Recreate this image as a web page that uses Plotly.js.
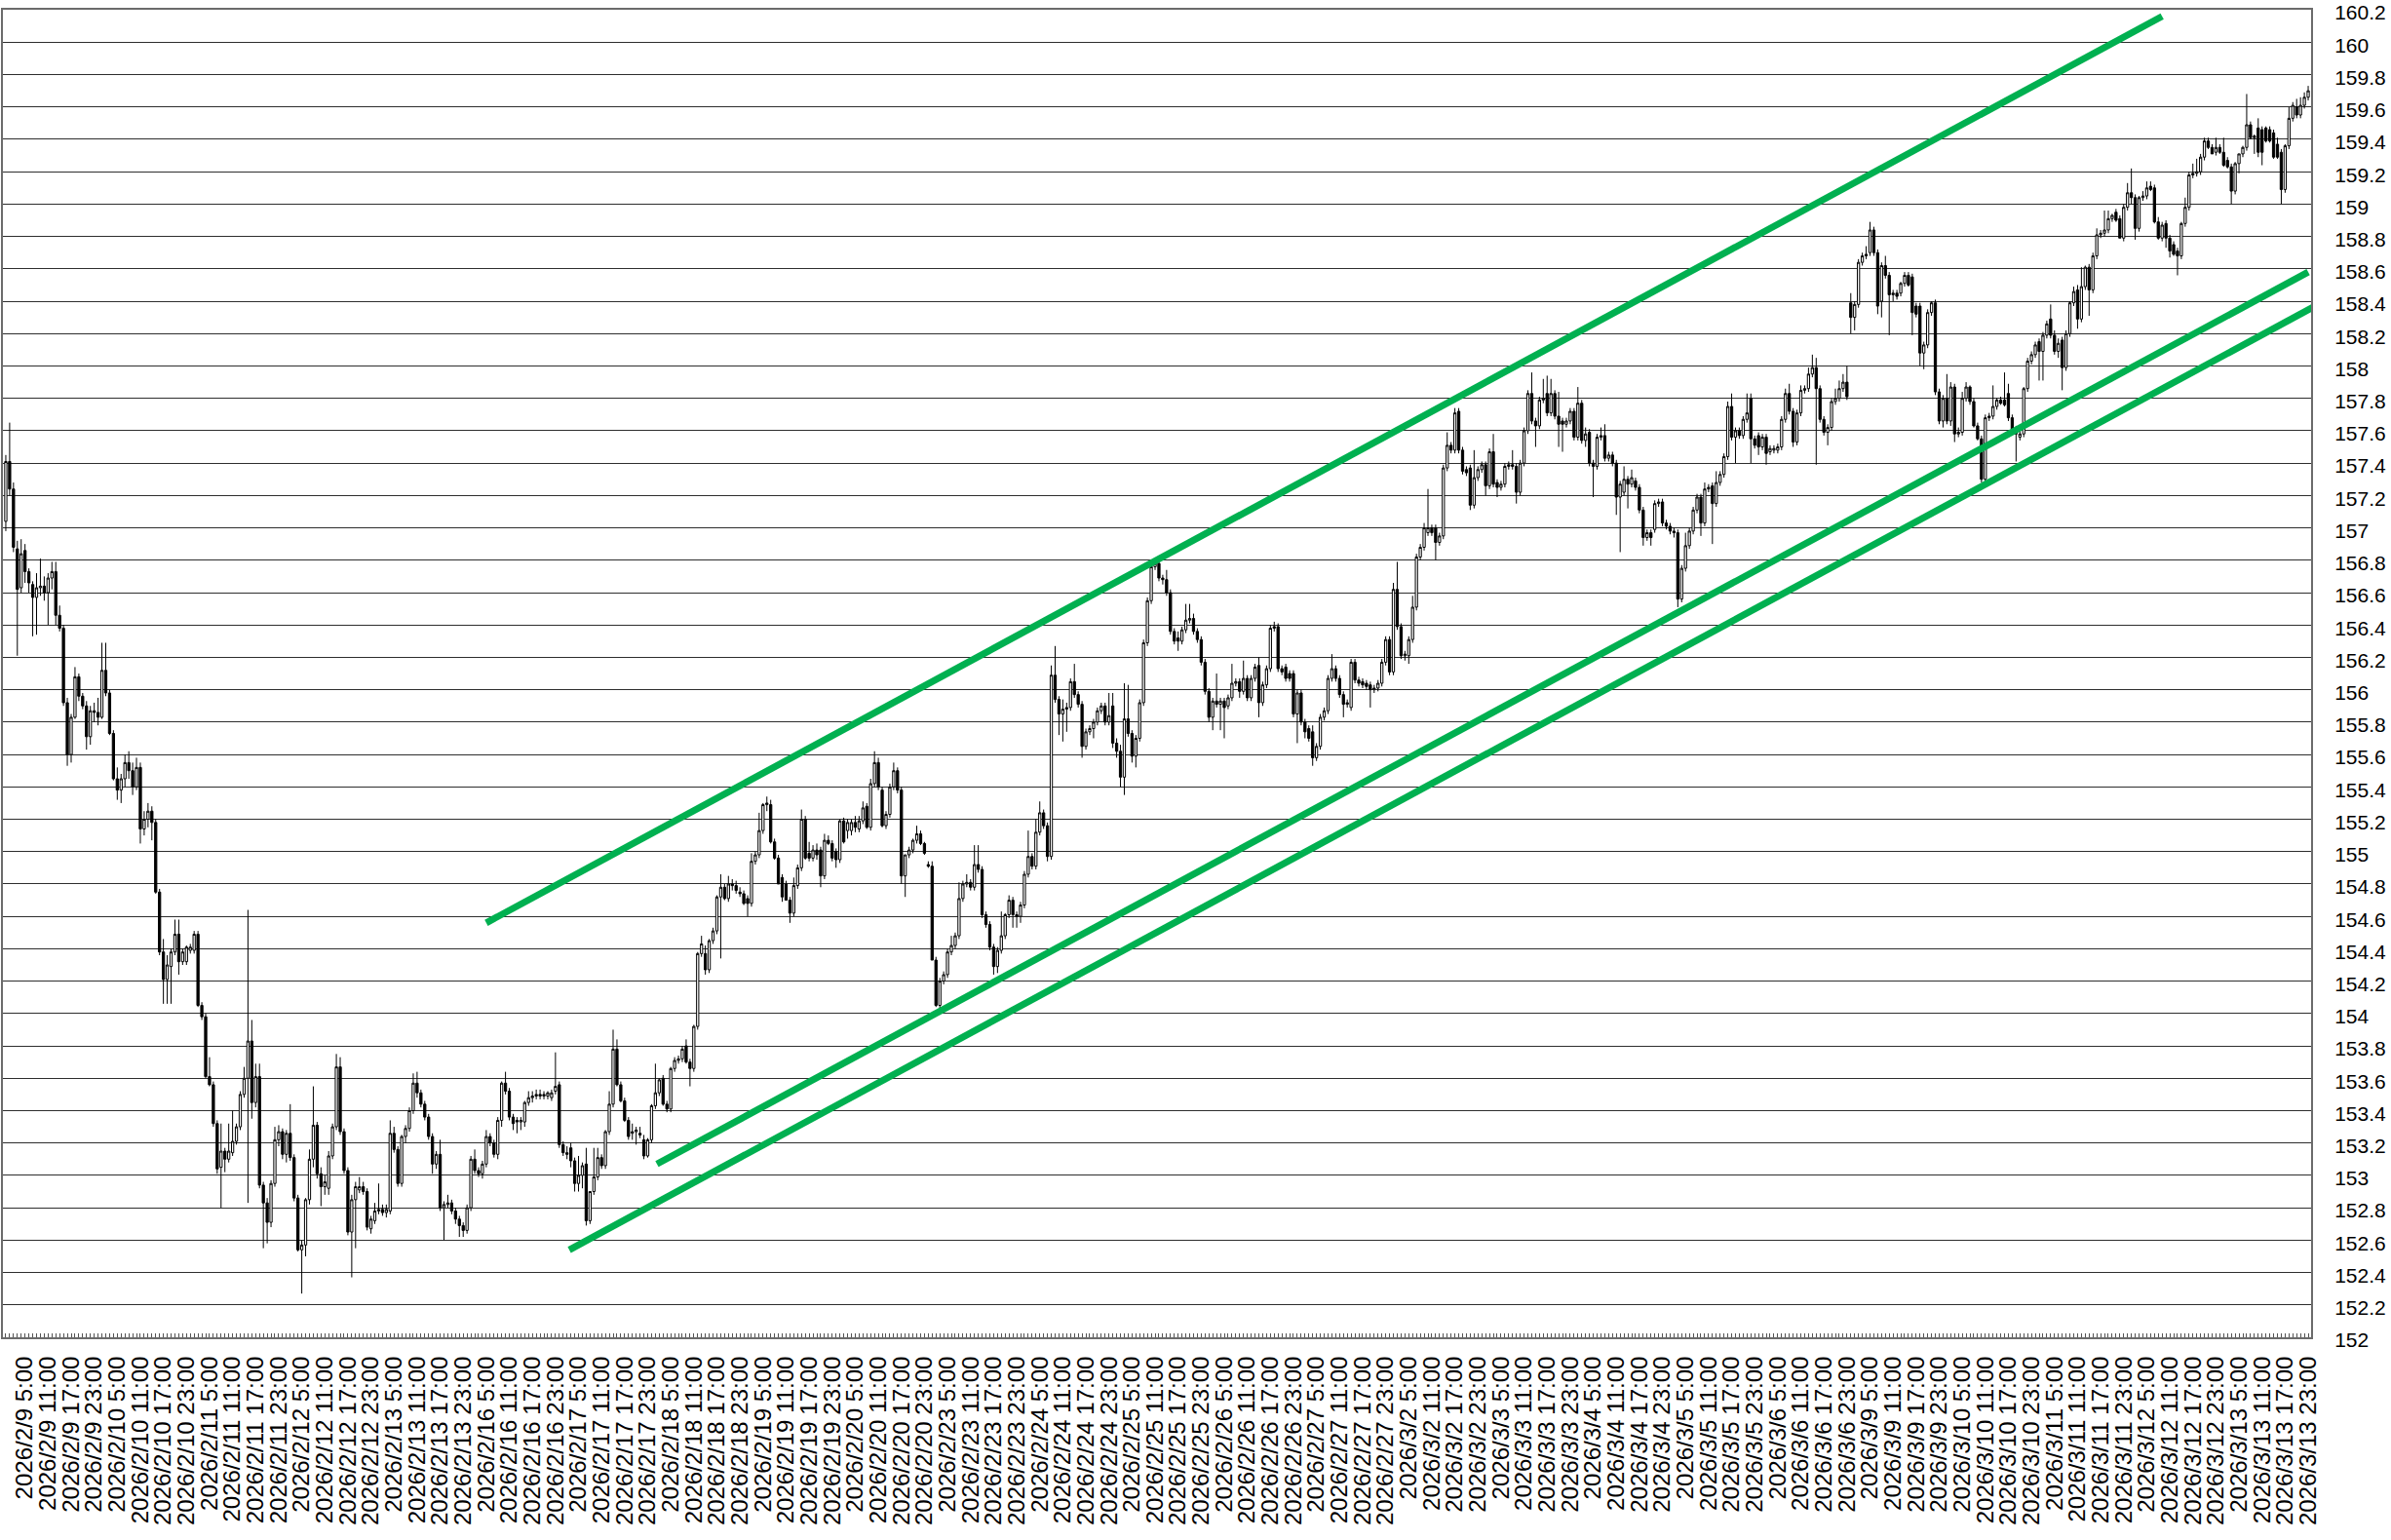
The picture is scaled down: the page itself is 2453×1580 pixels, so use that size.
<!DOCTYPE html>
<html>
<head>
<meta charset="utf-8">
<script src="https://cdn.plot.ly/plotly-3.0.1.min.js"></script>
<style>
  html, body { margin: 0; padding: 0; background: #ffffff; }
  #chart { width: 2453px; height: 1580px; }
</style>
</head>
<body>
<div id="chart"></div>
<script>
// ---- Data (hourly USD/JPY style candles) ----
const tradingDays = ['2026/2/9','2026/2/10','2026/2/11','2026/2/12','2026/2/13',
  '2026/2/16','2026/2/17','2026/2/18','2026/2/19','2026/2/20',
  '2026/2/23','2026/2/24','2026/2/25','2026/2/26','2026/2/27',
  '2026/3/2','2026/3/3','2026/3/4','2026/3/5','2026/3/6',
  '2026/3/9','2026/3/10','2026/3/11','2026/3/12','2026/3/13'];
const labelHours = ['5:00','11:00','17:00','23:00'];

const priceTicks = [152,152.2,152.4,152.6,152.8,153,153.2,153.4,153.6,153.8,
  154,154.2,154.4,154.6,154.8,155,155.2,155.4,155.6,155.8,
  156,156.2,156.4,156.6,156.8,157,157.2,157.4,157.6,157.8,
  158,158.2,158.4,158.6,158.8,159,159.2,159.4,159.6,159.8,160,160.2];

const open = [
157.04,157.41,157.24,156.87,156.63,156.86,156.73,156.65,156.57,156.63,
156.64,156.60,156.69,156.73,156.46,156.38,155.92,155.60,155.83,156.08,
155.96,155.90,155.71,155.87,155.86,155.83,156.12,155.98,155.73,155.45,
155.38,155.45,155.55,155.50,155.40,155.52,155.14,155.20,155.25,155.18,
154.75,154.38,154.21,154.29,154.38,154.49,154.32,154.32,154.39,154.39,
154.49,154.05,153.98,153.61,153.56,153.32,153.05,153.15,153.10,153.14,
153.21,153.30,153.50,153.60,153.83,153.45,153.61,152.94,152.83,152.71,
152.95,153.22,153.27,153.13,153.26,153.11,152.86,152.54,152.57,152.85,
153.10,153.31,153.01,152.93,152.92,153.12,153.30,153.67,153.27,153.03,
152.65,152.85,152.91,152.93,152.90,152.67,152.72,152.78,152.79,152.77,
152.78,153.26,153.16,152.95,153.24,153.29,153.40,153.57,153.51,153.44,
153.36,153.24,153.07,153.13,152.80,152.82,152.83,152.78,152.73,152.69,
152.66,152.80,153.10,153.03,153.01,153.07,153.24,153.20,153.13,153.34,
153.57,153.52,153.36,153.34,153.33,153.33,153.45,153.48,153.49,153.50,
153.49,153.49,153.48,153.52,153.56,153.19,153.14,153.17,153.09,152.95,
153.00,153.07,152.72,152.90,152.99,153.11,153.06,153.27,153.44,153.78,
153.56,153.46,153.34,153.26,153.27,153.26,153.22,153.12,153.22,153.43,
153.51,153.60,153.44,153.41,153.66,153.71,153.72,153.80,153.70,153.66,
153.92,154.37,154.37,154.27,154.45,154.51,154.72,154.78,154.71,154.80,
154.79,154.75,154.74,154.71,154.68,154.94,154.98,155.13,155.29,155.29,
155.06,154.96,154.84,154.80,154.70,154.62,154.79,154.90,155.20,154.99,
154.96,155.01,155.01,154.85,155.07,155.05,155.00,154.95,155.19,155.13,
155.13,155.18,155.14,155.19,155.28,155.15,155.42,155.55,155.38,155.16,
155.23,155.40,155.50,155.38,154.85,154.98,155.01,155.07,155.11,155.05,
154.92,154.91,154.33,154.05,154.20,154.24,154.38,154.42,154.48,154.71,
154.80,154.81,154.78,154.92,154.89,154.61,154.55,154.41,154.29,154.39,
154.48,154.61,154.70,154.61,154.60,154.67,154.86,154.97,154.91,155.12,
155.24,155.16,154.97,156.09,155.94,155.85,155.88,155.89,156.05,155.97,
155.91,155.65,155.74,155.76,155.80,155.87,155.90,155.80,155.90,155.67,
155.62,155.46,155.82,155.73,155.59,155.70,155.92,156.29,156.55,156.76,
156.78,156.69,156.68,156.60,156.36,156.32,156.30,156.37,156.43,156.44,
156.36,156.31,156.17,155.99,155.83,155.93,155.91,155.93,155.90,155.95,
156.04,156.05,155.99,156.07,155.95,156.07,156.15,155.92,156.03,156.13,
156.38,156.39,156.13,156.14,156.10,156.10,155.85,155.98,155.80,155.76,
155.74,155.58,155.65,155.83,155.87,156.07,156.13,156.07,155.97,155.91,
155.89,156.17,156.06,156.05,156.04,156.03,156.00,156.01,156.04,156.17,
156.31,156.11,156.62,156.39,156.21,156.21,156.31,156.51,156.82,156.88,
156.97,157.00,157.00,156.91,156.95,157.37,157.51,157.48,157.72,157.48,
157.36,157.37,157.14,157.31,157.36,157.39,157.26,157.47,157.28,157.25,
157.27,157.38,157.39,157.38,157.22,157.40,157.60,157.83,157.66,157.63,
157.79,157.83,157.71,157.83,157.69,157.66,157.64,157.66,157.72,157.56,
157.77,157.54,157.59,157.40,157.38,157.56,157.57,157.43,157.45,157.40,
157.19,157.22,157.30,157.27,157.29,157.25,157.11,156.94,156.97,156.99,
157.15,157.16,157.03,157.01,156.98,156.97,156.56,156.75,156.89,156.98,
157.11,157.19,157.03,157.24,157.26,157.15,157.28,157.33,157.44,157.75,
157.56,157.60,157.57,157.67,157.80,157.55,157.57,157.50,157.56,157.47,
157.48,157.48,157.50,157.67,157.83,157.72,157.53,157.71,157.85,157.86,
157.95,157.99,157.86,157.67,157.59,157.62,157.78,157.80,157.86,157.90,
158.39,158.30,158.38,158.64,158.68,158.70,158.84,158.70,158.40,158.62,
158.56,158.44,158.45,158.45,158.51,158.56,158.55,158.37,158.37,158.08,
158.13,158.33,158.39,157.84,157.66,157.80,157.66,157.87,157.58,157.59,
157.80,157.87,157.78,157.63,157.55,157.30,157.68,157.69,157.75,157.79,
157.79,157.83,157.68,157.61,157.56,157.58,157.86,158.03,158.07,158.15,
158.09,158.19,158.29,158.19,158.09,158.16,157.99,158.20,158.39,158.47,
158.29,158.49,158.61,158.47,158.68,158.81,158.82,158.84,158.91,158.95,
158.91,158.79,158.98,159.07,159.04,158.85,159.04,159.05,159.11,159.10,
158.89,158.79,158.88,158.79,158.75,158.71,158.68,158.88,158.98,159.18,
159.19,159.20,159.29,159.39,159.35,159.32,159.35,159.32,159.27,159.23,
159.08,159.25,159.31,159.35,159.49,159.41,159.47,159.46,159.47,159.46,
159.44,159.37,159.32,159.09,159.36,159.53,159.60,159.55,159.61,159.66];

const high = [
157.45,157.65,157.28,156.92,156.93,156.90,156.75,156.67,156.72,156.81,
156.70,156.72,156.79,156.79,156.52,156.40,155.95,155.85,156.14,156.10,
155.98,155.93,155.90,155.92,155.95,156.29,156.29,156.00,155.75,155.52,
155.48,155.60,155.62,155.55,155.58,155.55,155.25,155.30,155.28,155.20,
154.77,154.46,154.36,154.40,154.58,154.58,154.40,154.42,154.43,154.51,
154.51,154.07,154.00,153.73,153.58,153.34,153.32,153.17,153.32,153.40,
153.32,153.52,153.67,154.64,153.96,153.69,153.69,152.96,152.86,152.97,
153.30,153.31,153.29,153.28,153.44,153.13,152.88,152.60,152.86,153.16,
153.55,153.33,153.05,153.00,153.15,153.32,153.75,153.73,153.29,153.05,
152.88,152.96,152.99,152.96,152.92,152.75,152.83,152.95,152.82,152.82,
153.34,153.30,153.18,153.25,153.31,153.42,153.63,153.64,153.53,153.46,
153.38,153.26,153.15,153.22,152.84,152.88,152.85,152.80,152.75,152.71,
152.82,153.12,153.16,153.05,153.09,153.28,153.26,153.22,153.36,153.58,
153.64,153.54,153.38,153.36,153.36,153.46,153.52,153.52,153.53,153.53,
153.52,153.52,153.53,153.76,153.58,153.21,153.18,153.20,153.11,153.12,
153.08,153.17,152.90,153.17,153.17,153.13,153.28,153.52,153.90,153.84,
153.58,153.48,153.36,153.32,153.30,153.30,153.25,153.23,153.44,153.69,
153.60,153.62,153.46,153.67,153.73,153.74,153.80,153.84,153.72,153.93,
154.38,154.48,154.42,154.46,154.53,154.73,154.86,154.80,154.85,154.83,
154.82,154.78,154.76,154.73,154.99,155.00,155.24,155.30,155.34,155.32,
155.08,154.98,154.86,154.82,154.72,154.84,154.92,155.26,155.22,155.06,
155.04,155.05,155.03,155.11,155.10,155.07,155.02,155.20,155.21,155.20,
155.20,155.22,155.22,155.31,155.30,155.45,155.62,155.58,155.40,155.25,
155.42,155.55,155.52,155.40,154.98,155.03,155.08,155.16,155.13,155.06,
154.94,154.94,154.35,154.22,154.26,154.40,154.48,154.50,154.81,154.82,
154.86,154.83,155.04,155.04,154.91,154.63,154.57,154.43,154.41,154.63,
154.62,154.73,154.72,154.63,154.69,154.88,155.13,154.99,155.20,155.31,
155.26,155.18,156.15,156.27,155.96,155.94,155.92,156.07,156.16,155.99,
155.93,155.76,155.78,155.82,155.89,155.92,155.92,155.98,155.98,155.70,
155.66,156.04,156.03,155.75,155.72,155.94,156.31,156.57,156.78,156.79,
156.80,156.71,156.74,156.62,156.38,156.36,156.39,156.53,156.53,156.47,
156.38,156.33,156.19,156.01,155.95,156.10,155.95,155.95,155.97,156.16,
156.07,156.07,156.18,156.09,156.09,156.16,156.20,156.05,156.15,156.40,
156.42,156.41,156.15,156.16,156.12,156.12,156.00,156.00,155.82,155.78,
155.78,155.67,155.85,155.89,156.09,156.22,156.15,156.09,155.99,155.94,
156.19,156.19,156.08,156.07,156.06,156.05,156.03,156.06,156.19,156.33,
156.33,156.66,156.79,156.41,156.24,156.33,156.58,156.84,156.90,157.03,
157.24,157.02,157.02,156.97,157.39,157.59,157.53,157.74,157.74,157.50,
157.38,157.39,157.48,157.38,157.41,157.41,157.49,157.58,157.30,157.29,
157.40,157.41,157.48,157.40,157.42,157.62,157.85,157.96,157.68,157.81,
157.92,157.94,157.92,157.85,157.84,157.68,157.68,157.74,157.74,157.87,
157.79,157.62,157.61,157.42,157.58,157.62,157.64,157.47,157.47,157.42,
157.29,157.38,157.32,157.36,157.31,157.27,157.13,156.99,156.99,157.17,
157.18,157.18,157.05,157.03,157.00,156.99,156.77,156.97,157.00,157.13,
157.21,157.21,157.28,157.27,157.28,157.35,157.35,157.46,157.78,157.83,
157.62,157.62,157.69,157.83,157.83,157.57,157.59,157.58,157.58,157.51,
157.51,157.52,157.69,157.86,157.89,157.74,157.73,157.88,157.88,157.99,
158.07,158.05,157.88,157.69,157.64,157.80,157.86,157.91,157.95,158.00,
158.45,158.40,158.66,158.70,158.74,158.89,158.86,158.72,158.64,158.68,
158.58,158.47,158.47,158.52,158.58,158.58,158.57,158.39,158.39,158.15,
158.35,158.40,158.41,157.86,157.82,157.95,157.90,157.89,157.62,157.84,
157.90,157.88,157.80,157.65,157.57,157.70,157.71,157.88,157.80,157.81,
157.96,157.89,157.70,157.63,157.60,157.87,158.05,158.09,158.15,158.17,
158.21,158.28,158.38,158.22,158.17,158.18,158.22,158.40,158.49,158.50,
158.61,158.62,158.63,158.70,158.85,158.84,158.96,158.96,158.94,158.97,
158.93,159.00,159.13,159.22,159.06,159.05,159.08,159.14,159.14,159.12,
158.92,158.89,158.90,158.81,158.77,158.73,158.89,159.04,159.20,159.25,
159.28,159.31,159.41,159.41,159.37,159.41,159.37,159.41,159.29,159.25,
159.26,159.31,159.36,159.68,159.51,159.43,159.53,159.48,159.48,159.48,
159.46,159.41,159.34,159.37,159.60,159.63,159.65,159.66,159.69,159.73];

const low = [
156.98,157.20,156.85,156.21,156.60,156.66,156.60,156.33,156.34,156.58,
156.55,156.40,156.62,156.40,156.36,155.90,155.53,155.55,155.82,155.93,
155.88,155.63,155.66,155.80,155.78,155.82,155.96,155.72,155.44,155.32,
155.30,155.40,155.45,155.35,155.38,155.05,155.10,155.15,155.07,154.74,
154.36,154.06,154.06,154.06,154.36,154.24,154.30,154.30,154.37,154.37,
154.04,153.96,153.60,153.55,153.30,153.01,152.80,153.02,153.08,153.12,
153.19,153.28,153.48,152.83,153.35,153.42,152.92,152.55,152.58,152.68,
152.93,153.18,153.10,153.08,153.09,152.84,152.53,152.27,152.50,152.82,
153.05,152.98,152.81,152.88,152.88,153.10,153.28,153.25,153.01,152.63,
152.37,152.55,152.89,152.88,152.66,152.64,152.70,152.76,152.75,152.74,
152.76,153.14,152.93,152.93,153.20,153.27,153.38,153.48,153.42,153.34,
153.22,153.01,153.04,152.78,152.60,152.80,152.76,152.70,152.62,152.62,
152.64,152.78,153.01,152.99,152.98,153.05,153.18,153.11,153.10,153.30,
153.50,153.34,153.28,153.26,153.28,153.30,153.43,153.45,153.47,153.47,
153.47,153.47,153.46,153.50,153.17,153.12,153.10,153.05,152.90,152.90,
152.92,152.69,152.70,152.88,152.97,153.04,153.04,153.25,153.42,153.55,
153.45,153.33,153.22,153.22,153.19,153.23,153.10,153.11,153.20,153.41,
153.49,153.43,153.39,153.39,153.64,153.69,153.70,153.69,153.55,153.64,
153.90,154.35,154.24,154.25,154.43,154.49,154.34,154.70,154.69,154.76,
154.74,154.72,154.67,154.60,154.66,154.92,154.96,155.11,155.25,155.05,
154.95,154.80,154.69,154.70,154.56,154.60,154.77,154.88,154.95,154.94,
154.94,154.95,154.78,154.83,155.04,154.94,154.90,154.93,155.05,155.08,
155.10,155.12,155.12,155.17,155.14,155.13,155.40,155.38,155.15,155.14,
155.21,155.38,155.36,154.80,154.72,154.96,154.99,155.05,155.04,154.98,
154.90,154.33,154.04,154.03,154.18,154.22,154.36,154.40,154.46,154.69,
154.78,154.76,154.76,154.87,154.59,154.53,154.39,154.24,154.25,154.37,
154.46,154.59,154.53,154.53,154.56,154.65,154.84,154.89,154.89,155.10,
155.14,154.94,154.95,155.92,155.72,155.68,155.74,155.87,155.95,155.89,
155.58,155.63,155.72,155.70,155.78,155.85,155.78,155.78,155.64,155.58,
155.40,155.35,155.71,155.55,155.52,155.68,155.90,156.27,156.53,156.74,
156.67,156.65,156.58,156.34,156.28,156.24,156.28,156.35,156.41,156.34,
156.29,156.15,155.97,155.80,155.75,155.89,155.75,155.70,155.88,155.93,
156.02,155.95,155.97,155.93,155.93,156.05,155.83,155.90,156.01,156.11,
156.36,156.11,156.09,156.05,156.05,155.83,155.67,155.78,155.70,155.68,
155.53,155.56,155.63,155.81,155.85,156.05,156.05,155.95,155.83,155.89,
155.87,156.04,156.02,156.01,156.00,155.89,155.98,155.99,156.02,156.15,
156.09,156.09,156.37,156.19,156.18,156.16,156.29,156.49,156.80,156.86,
156.95,156.95,156.80,156.89,156.93,157.35,157.46,157.46,157.46,157.33,
157.32,157.11,157.12,157.29,157.34,157.20,157.24,157.25,157.19,157.23,
157.25,157.36,157.36,157.15,157.20,157.38,157.58,157.64,157.50,157.61,
157.77,157.69,157.69,157.67,157.50,157.47,157.62,157.64,157.54,157.54,
157.52,157.50,157.38,157.19,157.36,157.54,157.41,157.41,157.38,157.08,
156.85,157.20,157.12,157.25,157.23,157.09,156.89,156.92,156.89,156.97,
157.13,157.01,156.99,156.96,156.94,156.51,156.54,156.73,156.87,156.96,
157.09,156.95,157.01,157.22,156.90,157.13,157.26,157.31,157.42,157.54,
157.40,157.55,157.55,157.65,157.40,157.49,157.45,157.48,157.39,157.45,
157.46,157.46,157.48,157.65,157.70,157.50,157.51,157.69,157.83,157.84,
157.93,157.39,157.65,157.57,157.51,157.60,157.76,157.78,157.84,157.79,
158.20,158.22,158.36,158.62,158.66,158.68,158.68,158.32,158.30,158.54,
158.19,158.40,158.41,158.43,158.49,158.49,158.19,158.30,158.00,157.98,
158.11,158.31,157.82,157.64,157.62,157.64,157.63,157.53,157.56,157.57,
157.78,157.76,157.62,157.54,157.28,157.28,157.66,157.67,157.73,157.76,
157.75,157.66,157.60,157.41,157.54,157.56,157.84,158.01,158.05,157.91,
157.91,158.17,158.17,158.07,158.05,157.85,157.97,158.18,158.37,158.23,
158.27,158.47,158.31,158.45,158.66,158.79,158.80,158.82,158.89,158.89,
158.79,158.77,158.96,159.00,158.78,158.83,159.02,159.03,159.08,158.88,
158.78,158.77,158.73,158.67,158.68,158.56,158.66,158.86,158.96,159.16,
159.17,159.18,159.27,159.34,159.31,159.30,159.31,159.23,159.22,159.00,
159.06,159.19,159.29,159.33,159.40,159.31,159.29,159.24,159.38,159.38,
159.28,159.28,159.00,159.07,159.34,159.51,159.53,159.53,159.59,159.64];

const close = [
157.41,157.24,156.88,156.62,156.84,156.73,156.66,156.57,156.63,156.64,
156.60,156.69,156.73,156.46,156.38,155.92,155.60,155.83,156.08,155.96,
155.90,155.71,155.87,155.86,155.83,156.12,155.98,155.73,155.45,155.38,
155.45,155.55,155.50,155.40,155.52,155.14,155.20,155.25,155.18,154.75,
154.38,154.21,154.30,154.38,154.49,154.32,154.38,154.41,154.41,154.49,
154.05,153.98,153.61,153.56,153.32,153.04,153.15,153.10,153.15,153.21,
153.30,153.50,153.60,153.83,153.45,153.61,152.94,152.83,152.71,152.95,
153.22,153.27,153.13,153.26,153.11,152.86,152.54,152.57,152.85,153.10,
153.31,153.01,152.93,152.96,153.12,153.30,153.67,153.27,153.03,152.65,
152.85,152.93,152.93,152.90,152.68,152.73,152.78,152.79,152.77,152.79,
153.26,153.16,152.95,153.24,153.29,153.40,153.57,153.51,153.44,153.36,
153.24,153.07,153.13,152.80,152.82,152.83,152.78,152.73,152.69,152.66,
152.80,153.10,153.03,153.01,153.07,153.24,153.20,153.13,153.34,153.57,
153.52,153.36,153.32,153.33,153.34,153.45,153.48,153.49,153.50,153.49,
153.50,153.51,153.51,153.55,153.19,153.14,153.13,153.09,152.95,153.00,
153.06,152.72,152.90,152.99,153.11,153.06,153.27,153.44,153.78,153.56,
153.46,153.34,153.24,153.27,153.28,153.25,153.12,153.22,153.43,153.51,
153.59,153.44,153.41,153.66,153.71,153.72,153.78,153.70,153.66,153.92,
154.37,154.43,154.27,154.45,154.51,154.72,154.78,154.71,154.80,154.79,
154.76,154.74,154.68,154.68,154.94,154.98,155.13,155.29,155.30,155.06,
154.96,154.80,154.72,154.70,154.62,154.79,154.90,155.20,154.96,154.96,
155.01,154.98,154.85,155.07,155.05,154.96,154.95,155.19,155.06,155.18,
155.18,155.15,155.19,155.27,155.15,155.42,155.55,155.40,155.16,155.23,
155.40,155.50,155.38,154.85,154.98,155.01,155.07,155.11,155.05,154.99,
154.91,154.33,154.05,154.20,154.24,154.38,154.42,154.48,154.71,154.80,
154.81,154.78,154.92,154.89,154.61,154.55,154.41,154.29,154.39,154.48,
154.61,154.70,154.61,154.60,154.67,154.86,154.97,154.91,155.12,155.24,
155.16,154.97,156.09,155.94,155.85,155.88,155.89,156.05,155.97,155.91,
155.65,155.74,155.76,155.80,155.87,155.90,155.80,155.84,155.67,155.62,
155.46,155.82,155.73,155.59,155.70,155.92,156.29,156.55,156.76,156.78,
156.69,156.68,156.60,156.36,156.30,156.30,156.37,156.43,156.44,156.36,
156.31,156.17,155.99,155.83,155.93,155.91,155.93,155.89,155.95,156.04,
156.05,155.99,156.07,155.95,156.07,156.14,155.92,156.03,156.13,156.38,
156.39,156.13,156.11,156.07,156.07,155.85,155.98,155.80,155.74,155.70,
155.58,155.65,155.83,155.87,156.07,156.13,156.07,155.97,155.91,155.92,
156.17,156.06,156.04,156.03,156.02,156.00,156.01,156.04,156.17,156.31,
156.11,156.62,156.39,156.21,156.22,156.31,156.51,156.82,156.88,157.00,
157.00,156.97,156.91,156.95,157.37,157.51,157.48,157.71,157.48,157.35,
157.34,157.14,157.31,157.36,157.39,157.26,157.47,157.27,157.25,157.27,
157.38,157.39,157.38,157.22,157.40,157.60,157.83,157.66,157.63,157.79,
157.80,157.71,157.83,157.69,157.64,157.64,157.66,157.72,157.56,157.77,
157.54,157.58,157.40,157.38,157.56,157.57,157.43,157.45,157.40,157.19,
157.27,157.30,157.27,157.31,157.25,157.11,156.94,156.97,156.94,157.15,
157.16,157.03,157.01,156.98,156.97,156.56,156.75,156.89,156.98,157.11,
157.19,157.03,157.24,157.25,157.15,157.28,157.33,157.44,157.75,157.56,
157.60,157.57,157.67,157.71,157.55,157.51,157.50,157.56,157.46,157.49,
157.49,157.50,157.67,157.83,157.72,157.53,157.71,157.85,157.86,157.95,
157.99,157.86,157.67,157.59,157.62,157.78,157.80,157.86,157.90,157.81,
158.30,158.38,158.64,158.68,158.69,158.84,158.70,158.37,158.62,158.56,
158.44,158.45,158.43,158.51,158.56,158.50,158.33,158.32,158.08,158.13,
158.33,158.39,157.84,157.66,157.80,157.66,157.87,157.58,157.59,157.80,
157.87,157.78,157.63,157.55,157.30,157.68,157.69,157.75,157.79,157.77,
157.76,157.68,157.61,157.58,157.58,157.86,158.03,158.07,158.13,158.09,
158.19,158.26,158.19,158.09,158.14,157.99,158.20,158.39,158.46,158.29,
158.49,158.61,158.47,158.68,158.81,158.82,158.84,158.91,158.93,158.90,
158.79,158.98,159.07,159.04,158.85,159.04,159.05,159.10,159.09,158.89,
158.79,158.87,158.79,158.71,158.69,158.68,158.88,158.98,159.18,159.19,
159.20,159.29,159.39,159.35,159.31,159.35,159.32,159.24,159.23,159.08,
159.25,159.31,159.35,159.49,159.41,159.42,159.32,159.32,159.39,159.39,
159.29,159.29,159.09,159.36,159.53,159.61,159.55,159.61,159.66,159.70];

// Trend lines: [candle index, price] end points
const upperLineIdx = [125.0, 561.0];
const upperLinePrice = [154.56, 160.16];
const middleLineIdx = [169.4, 599.0];
const middleLinePrice = [153.07, 158.58];
const lowerLineIdx = [146.6, 600.8];
const lowerLinePrice = [152.54, 158.37];

// ---- Build ----
const candleIdx = open.map((_, i) => i);
const tickVals = [];
const tickText = [];
tradingDays.forEach((d, di) => {
  labelHours.forEach((h, hi) => {
    tickVals.push(di * 24 + 5 + hi * 6);
    tickText.push(d + ' ' + h);
  });
});
const priceText = priceTicks.map(v => String(v));

const GREEN = '#00B050';
const traces = [
  {
    type: 'candlestick',
    x: candleIdx, open: open, high: high, low: low, close: close,
    increasing: { line: { color: '#000000', width: 1 }, fillcolor: '#ffffff' },
    decreasing: { line: { color: '#000000', width: 1 }, fillcolor: '#000000' },
    whiskerwidth: 0,
    hoverinfo: 'skip',
    showlegend: false
  },
  { type: 'scatter', mode: 'lines', x: upperLineIdx, y: upperLinePrice,
    line: { color: GREEN, width: 7 }, hoverinfo: 'skip', showlegend: false },
  { type: 'scatter', mode: 'lines', x: middleLineIdx, y: middleLinePrice,
    line: { color: GREEN, width: 7 }, hoverinfo: 'skip', showlegend: false },
  { type: 'scatter', mode: 'lines', x: lowerLineIdx, y: lowerLinePrice,
    line: { color: GREEN, width: 7 }, hoverinfo: 'skip', showlegend: false }
];

const layout = {
  width: 2453, height: 1580,
  margin: { l: 3, r: 82, t: 10, b: 208, pad: 0 },
  paper_bgcolor: '#ffffff', plot_bgcolor: '#ffffff',
  showlegend: false,
  boxgap: 0.18,
  font: { family: 'Liberation Sans, Arial, sans-serif', color: '#000000' },
  xaxis: {
    type: 'linear',
    range: [-0.75, 599.75],
    tickmode: 'array', tickvals: tickVals, ticktext: tickText,
    tickangle: -90,
    tickfont: { size: 24, family: 'Liberation Sans, Arial, sans-serif', color: '#000000' },
    ticks: '', ticklabelstandoff: 8,
    showgrid: false, zeroline: false,
    showline: true, mirror: true, linecolor: '#6b6b6b', linewidth: 2,
    rangeslider: { visible: false },
    minor: { tickmode: 'linear', tick0: 0, dtick: 1, ticks: 'inside', ticklen: 4,
             tickcolor: '#555555', tickwidth: 1, showgrid: false },
    fixedrange: true
  },
  yaxis: {
    side: 'right',
    range: [152, 160.2005],
    tickmode: 'array', tickvals: priceTicks, ticktext: priceText,
    tickfont: { size: 21, family: 'Liberation Sans, Arial, sans-serif', color: '#000000' },
    ticks: '', ticklabelstandoff: 18, ticklabelshift: 3,
    ticklabeloverflow: 'allow',
    showgrid: true, gridcolor: '#2e2e2e', gridwidth: 1,
    zeroline: false,
    showline: true, mirror: true, linecolor: '#6b6b6b', linewidth: 2,
    fixedrange: true
  }
};

Plotly.newPlot('chart', traces, layout, { staticPlot: true, displayModeBar: false });
</script>
</body>
</html>
